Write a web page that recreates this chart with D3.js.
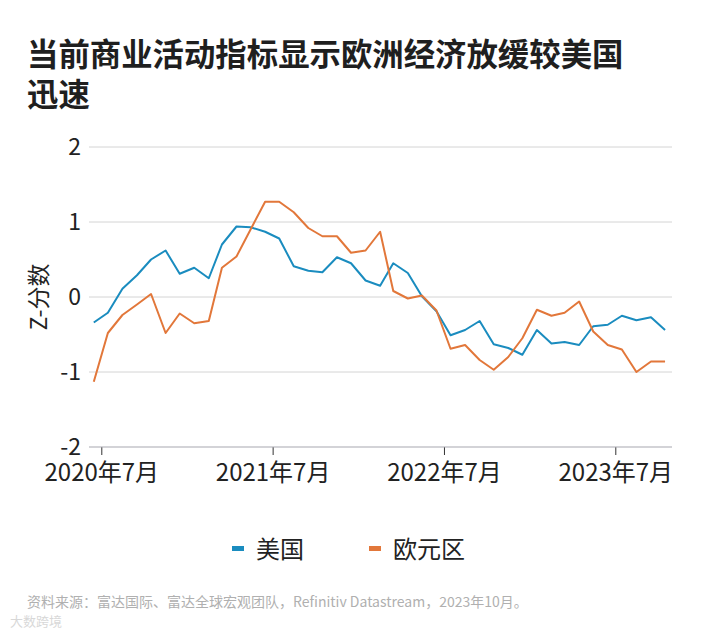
<!DOCTYPE html>
<html>
<head>
<meta charset="utf-8">
<script src="https://cdn.jsdelivr.net/npm/d3@7"></script>
<style>
  body { margin: 0; background: #fff; }
  svg text { font-family: "Noto Sans CJK SC", "Noto Sans", sans-serif; }
</style>
</head>
<body>
<svg id="chart" width="708" height="630"></svg>
<script>
// monthly points, mid-month, Jun 2020 .. Oct 2023
const startMonth = new Date(2020, 5, 15)
const usValues = [
  -0.34, -0.21, 0.11, 0.29, 0.50, 0.62, 0.31, 0.39, 0.25, 0.70,
  0.94, 0.93, 0.87, 0.78, 0.41, 0.35, 0.33, 0.53, 0.45, 0.22,
  0.15, 0.45, 0.32, 0.01, -0.19, -0.51, -0.44, -0.32, -0.63, -0.68,
  -0.77, -0.44, -0.62, -0.60, -0.64, -0.39, -0.37, -0.25, -0.31, -0.27,
  -0.44
]
const euroValues = [
  -1.13, -0.48, -0.24, -0.10, 0.04, -0.48, -0.22, -0.35, -0.32, 0.39,
  0.54, 0.90, 1.27, 1.27, 1.13, 0.92, 0.81, 0.81, 0.59, 0.62,
  0.87, 0.08, -0.02, 0.02, -0.18, -0.69, -0.64, -0.84, -0.97, -0.80,
  -0.55, -0.17, -0.25, -0.21, -0.06, -0.46, -0.64, -0.70, -1.00, -0.86,
  -0.86
]
const yTicks = [2, 1, 0, -1, -2]
const xTickDates = [new Date(2020, 6, 1), new Date(2021, 6, 1), new Date(2022, 6, 1), new Date(2023, 6, 1)]
const seriesNames = ['美国', '欧元区']
const seriesColors = ['#1a8cbf', '#e2773a']

const dates = usValues.map( (v, i) => new Date(startMonth.getFullYear(), startMonth.getMonth() + i, 15) )

const svg = d3.select('svg#chart')

// title
const title = svg.append('g')
  .attr('font-weight', 'bold')
  .attr('font-size', 31.4)
  .attr('fill', '#1f1f1f')
title.append('text').attr('x', 27).attr('y', 66).text('当前商业活动指标显示欧洲经济放缓较美国')
title.append('text').attr('x', 27).attr('y', 106).text('迅速')

// scales
const x = d3.scaleTime()
  .domain( [new Date(2020, 6, 1), new Date(2023, 6, 1)] )
  .range( [101.3, 615.3] )
const y = d3.scaleLinear()
  .domain( [-2, 2] )
  .range( [447, 147] )
const plotLeft = 89, plotRight = 672

// grid
svg.append('g')
  .selectAll('line')
  .data( yTicks.filter( d => d != -2 ) )
  .enter()
  .append('line')
  .attr('x1', plotLeft).attr('x2', plotRight)
  .attr('y1', d => y(d)).attr('y2', d => y(d))
  .attr('stroke', '#d4d4d4')
  .attr('stroke-width', 1)

// y labels
svg.append('g')
  .selectAll('text')
  .data( yTicks )
  .enter()
  .append('text')
  .attr('x', 81)
  .attr('y', d => y(d) + 8)
  .attr('text-anchor', 'end')
  .attr('font-size', 23)
  .attr('fill', '#222')
  .text( d => d )

svg.append('text')
  .attr('transform', 'translate(47,' + y(0) + ') rotate(-90)')
  .attr('text-anchor', 'middle')
  .attr('font-size', 23)
  .attr('fill', '#222')
  .text('Z-分数')

// x axis
const xAxis = d3.axisBottom(x)
  .tickValues( xTickDates )
  .tickSize(8)
  .tickPadding(9)
  .tickFormat( d => d3.timeFormat('%Y')(d) + '年' + (d.getMonth() + 1) + '月' )
const gx = svg.append('g')
  .attr('transform', 'translate(0,' + y(-2) + ')')
  .call( xAxis )
gx.select('.domain').remove()
gx.selectAll('.tick line').attr('stroke', '#333')
gx.selectAll('.tick text')
  .attr('font-size', 24)
  .attr('fill', '#222')
  .attr('font-family', '"Noto Sans CJK SC", sans-serif')
svg.append('line')
  .attr('x1', plotLeft).attr('x2', plotRight)
  .attr('y1', y(-2)).attr('y2', y(-2))
  .attr('stroke', '#a8a8b0')
  .attr('stroke-width', 1.2)

// lines
const line = d3.line()
  .x( (d, i) => x(dates[i]) )
  .y( d => y(d) )
svg.append('g')
  .selectAll('path')
  .data( [usValues, euroValues] )
  .enter()
  .append('path')
  .attr('d', d => line(d))
  .attr('fill', 'none')
  .attr('stroke', (d, i) => seriesColors[i])
  .attr('stroke-width', 2)
  .attr('stroke-linejoin', 'round')

// legend
const legendX = [232, 369]
const legend = svg.append('g')
  .selectAll('g')
  .data( seriesNames )
  .enter()
  .append('g')
  .attr('transform', (d, i) => 'translate(' + legendX[i] + ',549)')
legend.append('rect')
  .attr('x', 0).attr('y', -3)
  .attr('width', 12).attr('height', 5)
  .attr('fill', (d, i) => seriesColors[i])
legend.append('text')
  .attr('x', 24).attr('y', 9)
  .attr('font-size', 24)
  .attr('fill', '#222')
  .text( d => d )

// source
svg.append('text')
  .attr('x', 27).attr('y', 607)
  .attr('font-size', 14)
  .attr('fill', '#b0b0b0')
  .text('资料来源：富达国际、富达全球宏观团队，Refinitiv Datastream，2023年10月。')
svg.append('text')
  .attr('x', 10).attr('y', 626)
  .attr('font-size', 13)
  .attr('fill', '#d8d8d8')
  .text('大数跨境')
</script>
</body>
</html>
